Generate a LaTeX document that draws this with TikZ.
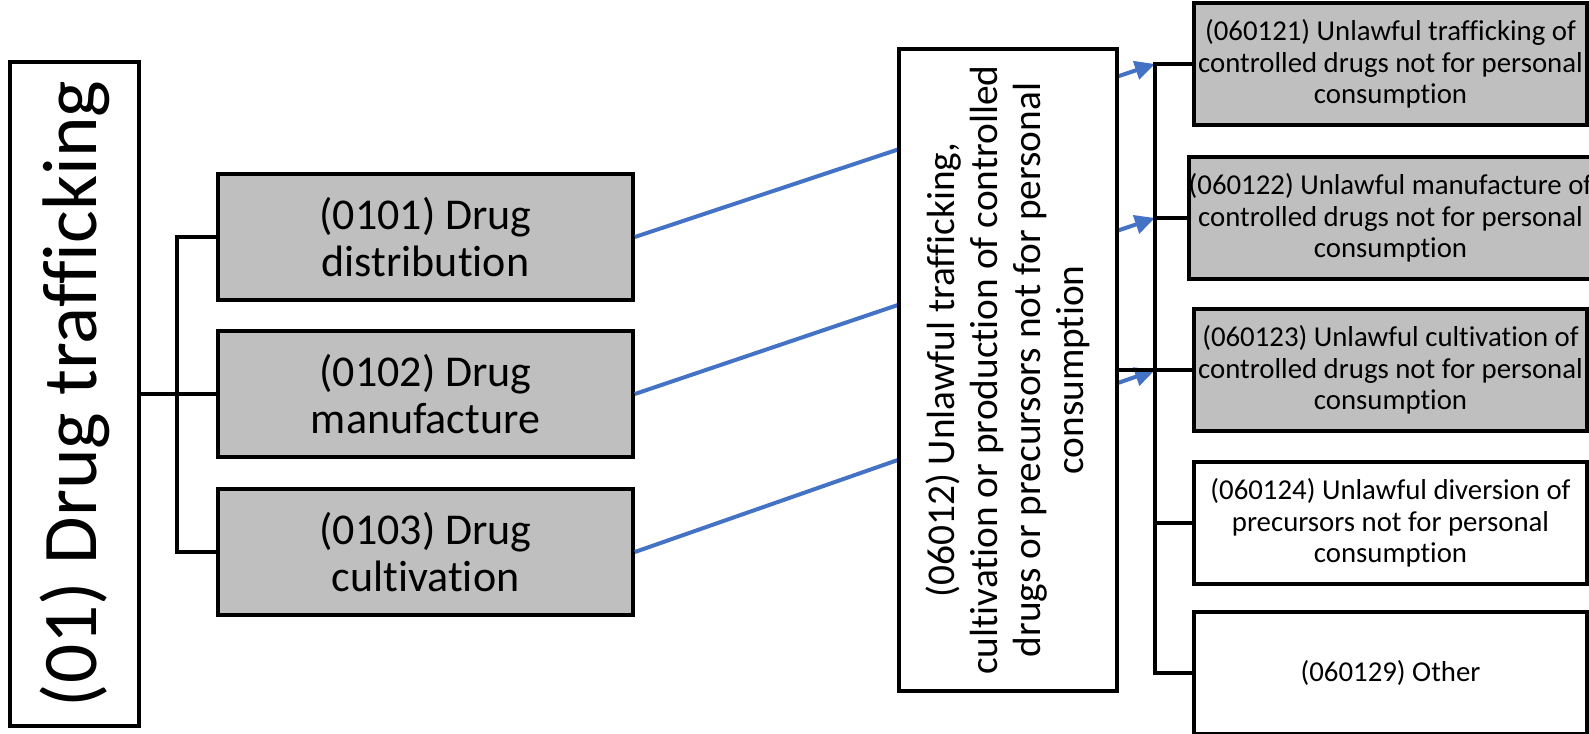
\documentclass[tikz,border=0pt]{standalone}
\usepackage{fontspec}
\setmainfont{Carlito}[Ligatures=NoCommon]
\usetikzlibrary{arrows.meta,calc}
\definecolor{colbl}{HTML}{4472C4}

\begin{document}
\begin{tikzpicture}[x=0.75pt,y=-0.75pt,
    grp/.style={draw,line width=3pt,fill=gray!50,minimum width=311pt,minimum height=94.5pt,inner sep=0pt,align=center,font=\fontsize{33}{35}\selectfont},
    cls/.style={draw,line width=3pt,minimum width=294.75pt,minimum height=91.5pt,inner sep=0pt,align=center,font=\fontsize{21.6}{23.6}\selectfont},
    tree/.style={line width=2.5pt},
    brk/.style={line width=2.5pt},
    lnk/.style={colbl,line width=3pt,-{Triangle[length=15pt,width=14pt]}}]
  \useasboundingbox (0,0) rectangle (1589,733);
  \node[draw,line width=3pt,rotate=90,minimum width=498pt,minimum height=96.75pt,inner sep=0pt,font=\fontsize{58}{60}\selectfont] (dt) at (74.5,394) {(01) Drug trafficking};
  \node[grp] (dist) at (425.5,237) {(0101) Drug\\distribution};
  \node[grp] (manu) at (425.5,394) {(0102) Drug\\manufacture};
  \node[grp] (cult) at (425.5,552) {(0103) Drug\\cultivation};
  \coordinate (jn) at (177,0);
  \draw[tree] (dt.south) -- (manu.west);
  \draw[tree] (dist.west) -| (jn |- cult.west) -- (cult.west);
  \coordinate (bar) at (1155,0);
  \node[cls,fill=gray!50] (r1) at (1390.5,64) {(060121) Unlawful trafficking of\\controlled drugs not for personal\\consumption};
  \node[cls,fill=gray!50] (r2) at (1390.5,218) {(060122) Unlawful manufacture of\\controlled drugs not for personal\\consumption};
  \node[cls,fill=gray!50] (r3) at (1390.5,370) {(060123) Unlawful cultivation of\\controlled drugs not for personal\\consumption};
  \node[cls,fill=white] (r4) at (1390.5,523) {(060124) Unlawful diversion of\\precursors not for personal\\consumption};
  \node[cls,fill=white] (r5) at (1390.5,673) {(060129) Other};
  \draw[lnk] (dist.east) -- (bar |- r1.west);
  \draw[lnk] (manu.east) -- (bar |- r2.west);
  \draw[lnk] (cult.east) -- (bar |- r3.west);
  \node[draw,line width=3pt,fill=white,rotate=90,minimum width=482pt,minimum height=163.5pt,inner sep=0pt,align=center,font=\fontsize{29.5}{32.3}\selectfont] (unl) at (1008,370) {(06012) Unlawful trafficking,\\cultivation or production of controlled\\drugs or precursors not for personal\\consumption};
  \draw[brk] (r1.west) -| (bar |- r5.west) -- (r5.west);
  \draw[brk] (bar |- r2.west) -- (r2.west);
  \draw[brk] (bar |- r4.west) -- (r4.west);
  \draw[brk] (unl.south) -- (r3.west);
\end{tikzpicture}
\end{document}
